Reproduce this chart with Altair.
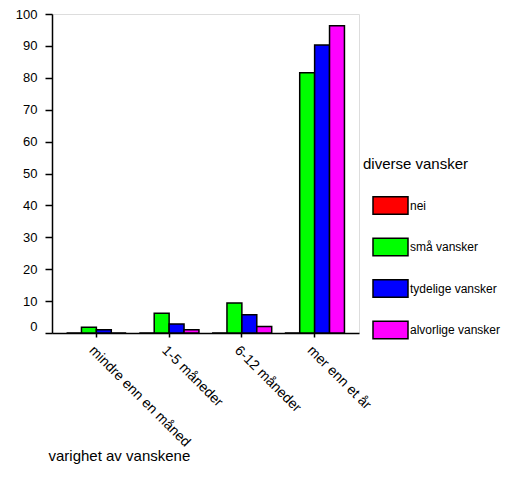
import altair as alt
import pandas as pd

categories = ["mindre enn en måned", "1-5 måneder", "6-12 måneder", "mer enn et år"]
series = ["nei", "små vansker", "tydelige vansker", "alvorlige vansker"]
colors = ["#ff0000", "#00ff00", "#0000ff", "#ff00ff"]
nei = [0, 0, 0, 0]
sma = [1.8, 6.2, 9.4, 81.6]
tydelige = [1.0, 2.8, 5.7, 90.3]
alvorlige = [0, 1.0, 2.0, 96.3]
y_ticks = [0, 10, 20, 30, 40, 50, 60, 70, 80, 90, 100]

rows = []
for s, vals in zip(series, [nei, sma, tydelige, alvorlige]):
    for c, v in zip(categories, vals):
        rows.append({"kat": c, "serie": s, "verdi": v})
df = pd.DataFrame(rows)

FONT = "Liberation Sans"

chart = alt.Chart(df).mark_bar(stroke="black", strokeWidth=1.5).encode(
    x=alt.X("kat:N", sort=categories,
            scale=alt.Scale(paddingInner=0.18, paddingOuter=0.2),
            axis=alt.Axis(title="varighet av vanskene", titleFontSize=15, titleFontWeight="normal",
                          titleFont=FONT, titleAnchor="start", titleAlign="left",
                          titleX=-4, titleY=122, titleBaseline="middle", titleColor="black",
                          labelAngle=45, labelAlign="left", labelBaseline="top",
                          labelFontSize=14, labelFont=FONT, labelPadding=6,
                          tickSize=4, tickColor="black", tickWidth=1.5,
                          domainColor="black", domainWidth=1.5, labelColor="black")),
    xOffset=alt.XOffset("serie:N", sort=series,
                        scale=alt.Scale(paddingInner=0, paddingOuter=0)),
    y=alt.Y("verdi:Q", scale=alt.Scale(domain=[0, 100], nice=False),
            axis=alt.Axis(title=None, values=y_ticks, grid=False,
                          labelFontSize=13, labelFont=FONT, labelColor="black",
                          labelPadding=8, tickSize=7, tickColor="black", tickWidth=1.5,
                          domainColor="black", domainWidth=1.5,
                          labelOffset={"condition": {"test": "datum.value === 0", "value": -7}, "value": 0})),
    color=alt.Color("serie:N", sort=series,
                    scale=alt.Scale(domain=series, range=colors),
                    legend=alt.Legend(title="diverse vansker", orient="none",
                                      legendX=311, legendY=143,
                                      titleFontSize=15, titleFontWeight="normal", titleFont=FONT,
                                      titleColor="black", titlePadding=15,
                                      labelFontSize=12, labelFont=FONT, labelColor="black",
                                      symbolType="M-1,-0.5H1V0.5H-1Z", symbolSize=1225,
                                      symbolStrokeColor="black", symbolStrokeWidth=1.5,
                                      symbolOpacity=1,
                                      symbolOffset=9, labelOffset=1, rowPadding=10.5,
                                      padding=0,
                                      labelExpr="(datum.label == 'små vansker' || datum.label == 'alvorlige vansker') ? '\u00a0' + datum.label : datum.label")),
).properties(
    width=307, height=319,
    padding={"left": 7, "top": 0, "right": 5, "bottom": 5},
).configure_view(stroke="black", strokeWidth=1.5).configure(background="white")

chart.save("out.html", embed_options={"renderer": "svg", "actions": False})
